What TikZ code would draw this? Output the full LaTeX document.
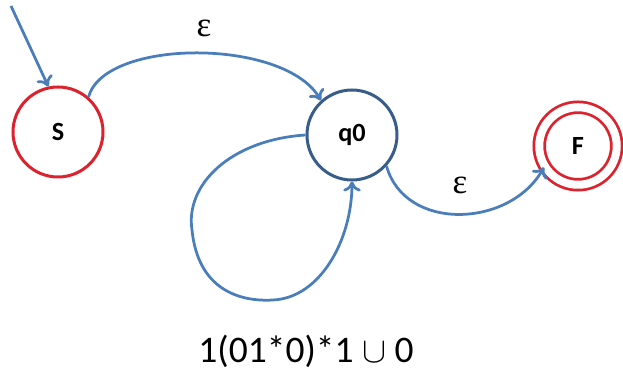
\documentclass[tikz,border=0pt]{standalone}
\usepackage{fontspec}
\setmainfont{Carlito}
\newfontfamily\epsfont{Liberation Serif}
\usepackage{tikz}
\usetikzlibrary{arrows.meta}
\definecolor{statered}{RGB}{220,35,45}
\definecolor{edgeblue}{RGB}{74,126,187}
\definecolor{darkblue}{RGB}{56,93,138}

\begin{document}
\begin{tikzpicture}[x=0.4pt,y=-0.4pt,
    nstate/.style={circle, line width=1.2pt, minimum size=36pt, inner sep=0pt,
      font=\fontsize{10.5}{12}\selectfont\bfseries},
    trans/.style={edgeblue, line width=1.1pt, -{To[length=4pt,width=7pt]}},
    elabel/.style={font=\fontsize{14}{16}\epsfont}]
    \useasboundingbox (0,0) rectangle (623,371);
    % Define states
    \node[nstate, draw=statered] (S) at (58,132) {S};
    \node[nstate, draw=darkblue] (q0) at (352,135) {q0};
    \node[nstate, draw=statered, double=white, double distance=3.2pt,
      line width=1.1pt, minimum size=31pt] (F) at (578,146) {F};
    \coordinate (start) at (11,6);
    % Draw transitions
    \draw[trans] (start) -- (S.102);
    \draw[trans] (S.49) .. controls (105,38) and (285,38) .. (q0.132);
    \draw[trans] (q0.-42) .. controls (405,232) and (510,228) .. (F.212);
    \draw[trans] (q0.180) .. controls (230,140) and (185,185) .. (192,230)
      .. controls (198,290) and (240,302) .. (273,300)
      .. controls (320,298) and (352,240) .. (q0.-90);
    % Labels
    \node[elabel] (e1) at (204,28) {ε};
    \node[elabel] (e2) at (460,185) {ε};
    \node[font=\fontsize{15}{18}\selectfont] (rex) at (306,351) {1(01*0)*1 $\cup$ 0};
\end{tikzpicture}
\end{document}
